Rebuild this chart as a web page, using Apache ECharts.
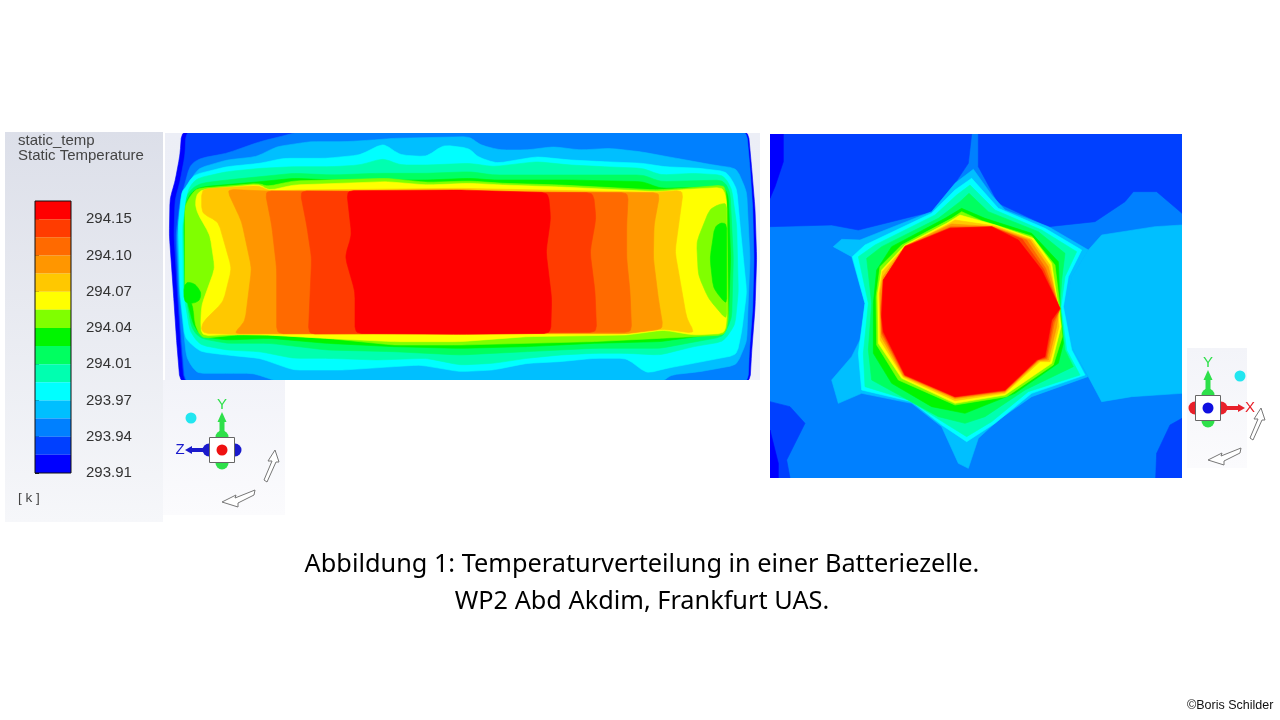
<!DOCTYPE html>
<html><head><meta charset="utf-8">
<style>html,body{margin:0;padding:0;background:#fff}#c{width:1280px;height:720px}</style>
<script src="https://cdn.jsdelivr.net/npm/echarts@6/dist/echarts.min.js"></script>
</head><body><div id="c"></div>
<script>
// Colour scale, top (band 1, hottest) to bottom (band 15, coldest)
const bandColors = ['#ff0000','#ff3c00','#ff6a00','#ff9600','#ffc800','#ffff00','#80ff00','#00f500','#00ff60','#00ffb0','#00ffff','#00bfff','#0080ff','#0040ff','#0000ff'];
const tempTicks = ['293.91','293.94','293.97','294.01','294.04','294.07','294.10','294.15'];

// Longitudinal section: contour outlines, band number and outline points
const leftB15 = [[65,20],[60,90],[45,170],[30,220],[28,330],[40,500],[50,650],[60,770],[1770,770],[1775,680],[1785,550],[1790,400],[1785,250],[1775,130],[1765,20]];
const leftB14 = [[78,20],[75,90],[60,170],[45,225],[42,330],[52,500],[62,650],[72,770],[1762,770],[1766,680],[1776,550],[1780,400],[1776,250],[1768,130],[1758,20]];
const leftB13 = [[75,770],[65,650],[55,500],[48,330],[60,230],[75,175],[90,120],[120,100],[200,85],[300,50],[360,35],[420,20],[1760,20],[1770,130],[1778,250],[1782,400],[1778,550],[1768,680],[1764,770]];
const leftB12 = [[115,130],[200,105],[290,95],[350,65],[450,50],[560,50],[640,45],[700,40],[930,35],[960,60],[1020,75],[1100,75],[1180,65],[1260,75],[1350,70],[1440,80],[1550,100],[1660,120],[1730,130],[1760,200],[1770,400],[1762,600],[1760,650],[1730,720],[1620,740],[1530,750],[1510,770],[355,770],[280,745],[200,745],[110,745],[80,700],[58,500],[52,330],[62,240],[85,175]];
const leftB11 = [[65,200],[75,190],[100,150],[200,125],[300,115],[370,100],[500,100],[600,90],[670,55],[720,90],[800,95],[850,60],[930,70],[950,95],[1010,115],[1130,95],[1230,105],[1330,110],[1450,115],[1510,125],[1620,130],[1700,140],[1730,190],[1740,300],[1750,400],[1760,500],[1745,620],[1730,690],[1600,715],[1520,730],[1460,745],[1400,700],[1300,700],[1200,710],[1100,715],[1000,735],[900,740],[780,720],[700,725],[550,735],[400,735],[300,700],[200,690],[120,680],[75,640],[60,500],[55,300]];
const leftB10 = [[85,190],[110,160],[200,140],[300,130],[400,125],[520,125],[600,120],[670,100],[720,120],[800,120],[930,115],[1000,125],[1130,110],[1230,120],[1330,125],[1450,130],[1500,150],[1600,145],[1690,150],[1715,190],[1730,300],[1735,500],[1725,600],[1690,650],[1600,665],[1500,690],[1400,685],[1300,685],[1200,690],[1100,700],[1000,715],[900,720],[800,700],[650,705],[500,700],[400,700],[300,680],[200,675],[120,660],[90,620],[70,500],[68,300]];
const leftB9 = [[90,195],[120,175],[200,165],[300,155],[400,145],[520,150],[650,145],[800,145],[930,140],[1000,150],[1130,150],[1230,150],[1330,150],[1450,150],[1500,170],[1690,165],[1710,200],[1720,400],[1715,580],[1690,635],[1500,670],[1300,670],[1100,680],[900,690],[700,680],[500,675],[330,655],[200,655],[120,640],[95,610],[75,500],[72,300],[78,220]];
const leftB8 = [[100,195],[130,185],[300,170],[400,160],[520,165],[800,165],[930,160],[1000,165],[1230,165],[1450,170],[1500,190],[1690,185],[1705,210],[1712,400],[1705,580],[1680,625],[1500,650],[1300,655],[1100,665],[900,670],[700,665],[500,655],[330,640],[200,645],[125,635],[100,600],[75,500],[72,300],[80,225]];
const leftB7 = [[115,190],[300,175],[320,185],[400,168],[680,160],[800,172],[930,168],[1030,175],[1200,180],[1490,195],[1570,190],[1695,180],[1700,230],[1705,585],[1695,630],[1500,640],[1300,650],[900,660],[700,660],[500,640],[330,630],[230,630],[125,640],[105,600],[100,540],[75,500],[75,240],[100,200]];
const leftB6 = [[118,195],[300,178],[325,197],[400,180],[680,170],[800,180],[930,175],[1030,180],[1200,186],[1490,200],[1570,194],[1690,187],[1700,230],[1700,580],[1695,625],[1600,630],[1510,615],[1400,630],[1100,635],[900,650],[700,650],[500,640],[320,630],[230,628],[125,632],[122,595],[125,540],[165,430],[150,330],[110,260],[105,225]];
const leftB5 = [[125,192],[300,182],[325,198],[420,195],[900,190],[1490,202],[1570,196],[1545,380],[1580,580],[1605,625],[1510,612],[1400,625],[1100,625],[700,628],[445,627],[320,627],[220,628],[125,625],[125,595],[190,530],[215,430],[175,290],[125,265]];
const leftB4 = [[200,193],[320,198],[1500,203],[1482,300],[1480,400],[1495,520],[1510,612],[1400,626],[220,626],[255,590],[275,430],[245,290]];
const leftB3 = [[315,198],[1405,203],[1400,300],[1400,400],[1410,500],[1415,622],[350,626],[350,430],[335,300]];
const leftB2 = [[420,198],[1300,203],[1308,280],[1290,380],[1305,500],[1310,622],[445,627],[455,400],[440,300]];
const leftB1 = [[560,197],[900,195],[1165,203],[1172,280],[1158,380],[1175,520],[1172,625],[900,628],[585,625],[585,500],[555,395],[575,330]];
const leftPoolLime = [[1700,230],[1650,250],[1610,350],[1615,450],[1645,520],[1700,585]];
const leftPoolGreen = [[1700,290],[1665,300],[1650,400],[1660,490],[1700,540]];
const leftBlobGreen = [[72,475],[95,470],[118,490],[125,515],[110,535],[72,535]];
const leftContours = [[15,leftB15],[14,leftB14],[13,leftB13],[12,leftB12],[11,leftB11],[10,leftB10],[9,leftB9],[8,leftB8],[7,leftB7],[6,leftB6],[5,leftB5],[4,leftB4],[3,leftB3],[2,leftB2],[1,leftB1],[7,leftPoolLime],[8,leftPoolGreen],[8,leftBlobGreen]];

// Cross section: contour outlines
const rightBase = [[15,12],[1251,12],[1251,1044],[15,1044]];
const rightTopLeft = [[15,12],[620,12],[610,100],[570,160],[500,245],[280,300],[200,285],[15,290]];
const rightTopRight = [[640,12],[1251,12],[1251,250],[1175,185],[1105,185],[1080,215],[990,275],[850,290],[700,220],[640,110]];
const rightBotLeft = [[15,815],[75,830],[120,880],[65,990],[75,1044],[15,1044]];
const rightBotRight = [[1251,865],[1215,885],[1175,970],[1172,1044],[1251,1044]];
const rightStripTop = [[15,12],[55,12],[55,95],[30,170],[15,205]];
const rightStripBot = [[15,900],[40,1000],[40,1044],[15,1044]];
const rightSide = [[1251,285],[1170,290],[1010,315],[970,360],[920,440],[900,540],[925,660],[970,740],[1010,815],[1100,800],[1251,790]];
const star12 = [[625,118],[680,195],[720,240],[850,290],[970,360],[920,440],[905,530],[925,660],[968,740],[800,800],[700,870],[640,925],[610,1015],[580,1000],[530,890],[440,820],[290,790],[220,820],[200,750],[260,680],[290,620],[300,520],[260,380],[205,350],[230,328],[285,330],[500,245],[570,160]];
const star11 = [[620,145],[700,235],[840,295],[950,360],[910,440],[895,530],[920,660],[960,735],[800,790],[690,880],[605,935],[530,885],[440,815],[290,780],[280,670],[300,520],[262,380],[300,345],[500,250],[570,180]];
const star10 = [[615,165],[690,240],[830,300],[935,365],[900,440],[888,530],[905,660],[945,735],[790,785],[680,875],[605,920],[540,880],[430,810],[300,770],[295,670],[310,520],[280,380],[330,345],[510,255],[575,195]];
const star9 = [[612,190],[670,245],[820,305],[900,370],[890,450],[885,530],[900,660],[925,710],[780,780],[660,860],[600,880],[520,860],[420,805],[320,750],[310,660],[320,520],[305,385],[350,350],[520,265],[585,215]];
const star8 = [[590,235],[660,265],[800,310],[880,395],[885,530],[895,640],[880,700],[750,790],[600,850],[500,830],[380,760],[325,670],[325,520],[335,420],[380,350],[540,265]];
const star7 = [[590,245],[650,272],[800,318],[870,405],[885,530],[892,620],[865,705],[725,800],[570,825],[400,750],[335,645],[333,500],[345,410],[410,345],[560,265]];
const star6 = [[585,255],[690,285],[805,325],[860,400],[880,530],[888,590],[860,700],[720,795],[570,820],[410,745],[340,640],[338,490],[350,420],[420,345],[545,280]];
const star5 = [[570,270],[690,288],[800,328],[855,405],[878,530],[882,590],[855,695],[825,695],[720,790],[570,812],[415,742],[345,630],[342,490],[352,425],[422,348],[545,285]];
const star4 = [[560,282],[685,290],[795,330],[850,410],[882,535],[875,590],[850,690],[822,692],[720,786],[570,806],[415,738],[348,620],[345,490],[354,440],[420,348]];
const star3 = [[557,290],[682,291],[785,330],[842,415],[884,537],[868,580],[846,686],[820,690],[720,783],[570,803],[418,737],[350,612],[347,530],[355,450],[420,349]];
const star2 = [[556,293],[681,291],[772,328],[836,418],[885,538],[864,575],[843,683],[818,690],[720,782],[570,801],[419,736],[352,608],[348,550],[355,450],[420,350]];
const star1 = [[555,295],[680,290],[760,330],[830,420],[885,535],[860,570],[840,680],[815,690],[720,780],[570,800],[420,735],[355,605],[350,560],[355,450],[420,350]];
const rightContours = [[13,rightBase],[14,rightTopLeft],[14,rightTopRight],[14,rightBotLeft],[14,rightBotRight],[15,rightStripTop],[15,rightStripBot],[12,rightSide],[12,star12],[11,star11],[10,star10],[9,star9],[8,star8],[7,star7],[6,star6],[5,star5],[4,star4],[3,star3],[2,star2],[1,star1]];

// small fixed-size corner cuts so the fine-mesh section reads as smooth contours
function rounded(pts,passes,cut){
  let p=pts;
  for(let k=0;k<passes;k++){
    const q=[];
    p.forEach((a,i)=>{const b=p[(i+1)%p.length];
      const len=Math.hypot(b[0]-a[0],b[1]-a[1])||1, t=Math.min(cut/len,0.33);
      q.push([a[0]+(b[0]-a[0])*t,a[1]+(b[1]-a[1])*t],[b[0]-(b[0]-a[0])*t,b[1]-(b[1]-a[1])*t]);});
    p=q;
  }
  return p;
}
function contourSeries(list, gridIdx, passes){
  return {type:'custom',xAxisIndex:gridIdx,yAxisIndex:gridIdx,silent:true,clip:true,
    data:list.map((c,i)=>[i,0]),
    renderItem(params,api){
      const c=list[api.value(0)], col=bandColors[c[0]-1];
      return {type:'polygon',shape:{points:rounded(c[1],passes,10).map(p=>api.coord(p))},
        style:{fill:col,stroke:col,lineWidth:0.6}};
    }};
}

const SANS='"Liberation Sans",Arial,sans-serif';
function label(text,x,y,size,fill,align){
  return {type:'text',silent:true,style:{text,x,y,fill,font:size+'px '+SANS,textAlign:align||'left',textVerticalAlign:'middle'}};
}
function poly(points,fill,stroke,w){
  return {type:'polygon',silent:true,shape:{points},style:{fill,stroke:stroke||fill,lineWidth:w||0}};
}
function gizmo(cx,cy,centerCol,sideCol,dir,letter,cyanDx){
  const GREEN='#2ee04a', out=[];
  [[0,-13,GREEN],[0,13,GREEN],[-13,0,sideCol],[13,0,sideCol]].forEach(b=>
    out.push({type:'circle',silent:true,shape:{cx:cx+b[0],cy:cy+b[1],r:6.5},style:{fill:b[2]}}));
  out.push({type:'rect',silent:true,shape:{x:cx-12.5,y:cy-12.5,width:25,height:25},style:{fill:'#fff',stroke:'#666',lineWidth:1}});
  out.push({type:'circle',silent:true,shape:{cx,cy,r:5.5},style:{fill:centerCol}});
  out.push({type:'rect',silent:true,shape:{x:cx-2.5,y:cy-30,width:5,height:12},style:{fill:GREEN}});
  out.push(poly([[cx-4.5,cy-28],[cx+4.5,cy-28],[cx,cy-38]],GREEN));
  out.push(label('Y',cx,cy-45,15,GREEN,'center'));
  const x0=cx+dir*17,x1=cx+dir*30;
  out.push({type:'rect',silent:true,shape:{x:Math.min(x0,x1),y:cy-2,width:13,height:4},style:{fill:sideCol}});
  out.push(poly([[x1,cy-4],[x1,cy+4],[cx+dir*37,cy]],sideCol));
  out.push(label(letter,cx+dir*42,cy,15,sideCol,'center'));
  out.push({type:'circle',silent:true,shape:{cx:cx+cyanDx,cy:cy-32,r:5.5},style:{fill:'#22e6f0'}});
  out.push(poly([[53,0],[46,11],[50,11],[42,30],[45,32],[54,12],[57,12]].map(p=>[cx+p[0],cy+p[1]]),'#fff','#777',1));
  out.push(poly([[0,52],[14,45],[13,48],[33,40],[32,45],[16,53],[16,57]].map(p=>[cx+p[0],cy+p[1]]),'#fff','#777',1));
  return out;
}
function panel(x,y,width,height,top,bottom){
  return {type:'rect',silent:true,shape:{x,y,width,height},style:{fill:new echarts.graphic.LinearGradient(0,0,0,1,[{offset:0,color:top},{offset:1,color:bottom}])}};
}

const chart=echarts.init(document.getElementById('c'),null,{renderer:'canvas'});
const hidden=(i,min,max,inv)=>({gridIndex:i,type:'value',min,max,inverse:inv,show:false});
chart.setOption({
  animation:false,backgroundColor:'#fff',
  title:{text:'Abbildung 1: Temperaturverteilung in einer Batteriezelle.\nWP2 Abd Akdim, Frankfurt UAS.',left:637,top:541,textAlign:'center',
    textStyle:{fontFamily:'"Noto Sans"',fontSize:25.3,fontWeight:'normal',color:'#000',lineHeight:37}},
  grid:[
    {left:165,top:133,width:595,height:247},
    {left:770,top:134,width:412,height:344},
    {left:35,top:201,width:36,height:272}
  ],
  xAxis:[hidden(0,15,1800,false),hidden(1,15,1251,false),hidden(2,0,1,false)],
  yAxis:[hidden(0,24,765,true),hidden(1,12,1044,true),
    {gridIndex:2,type:'value',min:0,max:15,interval:2,position:'right',
     axisLine:{show:false},splitLine:{show:false},
     axisTick:{show:true,length:4,lineStyle:{color:'#222',width:1}},
     axisLabel:{margin:15,fontSize:15,color:'#333',fontFamily:'"Liberation Sans"',
       formatter:v=>tempTicks[v/2]||''}}],
  series:[
    contourSeries(leftContours,0,2),
    contourSeries(rightContours,1,0),
    {type:'custom',xAxisIndex:2,yAxisIndex:2,silent:true,clip:false,
     data:bandColors.map((c,i)=>[i,0]),
     renderItem(params,api){
       const i=api.value(0), a=api.coord([0,15-i]), b=api.coord([1,14-i]);
       return {type:'rect',shape:{x:a[0],y:a[1],width:b[0]-a[0],height:b[1]-a[1]},style:{fill:bandColors[i]}};
     }},
    {type:'custom',xAxisIndex:2,yAxisIndex:2,silent:true,clip:false,z:5,data:[[0,0]],
     renderItem(params,api){
       const a=api.coord([0,15]), b=api.coord([1,0]);
       return {type:'rect',shape:{x:a[0],y:a[1],width:b[0]-a[0],height:b[1]-a[1]},style:{fill:'none',stroke:'#111',lineWidth:1}};
     }}
  ],
  graphic:{elements:[
    panel(5,132,158,390,'#dcdfe9','#f6f7fa'),
    panel(165,133,595,247,'#eceef6','#f0f1f8'),
    panel(163,380,122,135,'#f2f3f9','#fbfbfd'),
    panel(1187,348,60,120,'#f3f4f9','#fbfbfd'),
    label('static_temp',18,141,15,'#444'),
    label('Static Temperature',18,156,15,'#444'),
    label('[ k ]',18,498,13.5,'#444'),
    ...gizmo(222,450,'#ee1111','#1a1acc',-1,'Z',-31),
    ...gizmo(1208,408,'#1010e0','#e8202a',1,'X',32),
    label('©Boris Schilder',1187,706,12.5,'#111')
  ]}
});
</script></body></html>
